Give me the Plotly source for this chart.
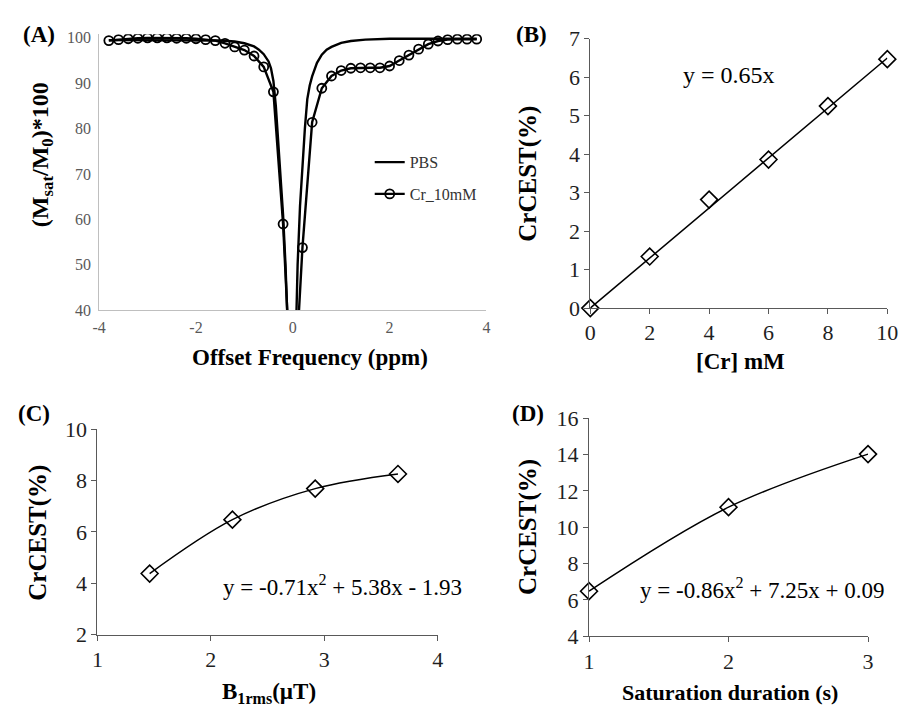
import plotly.graph_objects as go

W, H = 915, 721

# ---------------- Panel A data ----------------
offset_cr = [-3.8, -3.6, -3.4, -3.2, -3.0, -2.8, -2.6, -2.4, -2.2, -2.0,
             -1.8, -1.6, -1.4, -1.2, -1.0, -0.8, -0.6, -0.4, -0.2, 0.0,
             0.2, 0.4, 0.6, 0.8, 1.0, 1.2, 1.4, 1.6, 1.8, 2.0,
             2.2, 2.4, 2.6, 2.8, 3.0, 3.2, 3.4, 3.6, 3.8]
cr_10mM = [99.4, 99.6, 99.8, 99.9, 100.0, 100.0, 100.0, 99.9, 99.9, 99.8,
           99.6, 99.4, 98.8, 98.0, 97.3, 96.0, 93.6, 88.1, 59.0, 15.0,
           53.8, 81.4, 88.9, 91.6, 92.8, 93.3, 93.4, 93.4, 93.4, 93.8,
           95.0, 96.2, 97.5, 98.6, 99.3, 99.6, 99.7, 99.7, 99.7]

offset_pbs = [-3.8, -3.0, -2.0, -1.5, -1.2, -1.0, -0.8, -0.7, -0.6, -0.5,
              -0.45, -0.4, -0.35, -0.3, -0.25, -0.2, -0.15, -0.1, -0.05, 0.0,
              0.05, 0.1, 0.15, 0.2, 0.25, 0.3, 0.35, 0.4, 0.5, 0.6,
              0.7, 0.8, 1.0, 1.2, 1.5, 2.0, 3.0, 3.8]
pbs = [99.5, 99.5, 99.5, 99.4, 99.2, 98.8, 98.1, 97.4, 96.4, 94.8,
       93.3, 90.5, 85.0, 77.0, 70.0, 61.0, 50.0, 36.0, 20.0, 5.0,
       28.0, 50.0, 63.0, 72.0, 80.0, 86.5, 89.5, 91.5, 94.5, 96.3,
       97.4, 98.0, 98.9, 99.3, 99.6, 99.8, 99.8, 99.8]
ticks_a_x = [-4, -2, 0, 2, 4]
ticklabels_a_x = ["-4", "-2", "0", "2", "4"]

# ---------------- Panel B data ----------------
cr_conc = [0, 2, 4, 6, 8, 10]
crcest_conc = [0.0, 1.34, 2.82, 3.86, 5.25, 6.47]
trend_b_x = [0, 10]
trend_b_y = [0.0, 6.5]

# ---------------- Panel C data ----------------
b1rms = [1.46, 2.19, 2.92, 3.65]
crcest_b1 = [4.38, 6.48, 7.69, 8.26]

# ---------------- Panel D data ----------------
sat_dur = [1, 2, 3]
crcest_dur = [6.48, 11.1, 14.02]

SERIF = "Liberation Serif, DejaVu Serif, serif"
DARK = "#1f1f1f"
AX = "#595959"


def px(x):
    return x / W


def py(y):
    return 1 - y / H


fig = go.Figure()

# Panel A
fig.add_trace(go.Scatter(x=offset_pbs, y=pbs, mode="lines", name="PBS",
                         line=dict(color="black", width=2.4),
                         xaxis="x", yaxis="y", legendgroup="g1"))
fig.add_trace(go.Scatter(x=offset_cr, y=cr_10mM, mode="lines+markers", name="Cr_10mM",
                         line=dict(color="black", width=2.4),
                         marker=dict(symbol="circle-open", size=9, color="black",
                                     line=dict(width=1.8, color="black")),
                         xaxis="x", yaxis="y", legendgroup="g2"))

# Panel B
fig.add_trace(go.Scatter(x=trend_b_x, y=trend_b_y, mode="lines", showlegend=False,
                         line=dict(color="black", width=1.5),
                         xaxis="x2", yaxis="y2"))
fig.add_trace(go.Scatter(x=cr_conc, y=crcest_conc, mode="markers", showlegend=False,
                         marker=dict(symbol="diamond-open", size=13, color="black",
                                     line=dict(width=1.6, color="black")),
                         cliponaxis=False, xaxis="x2", yaxis="y2"))

# Panel C
fig.add_trace(go.Scatter(x=b1rms, y=crcest_b1, mode="lines+markers", showlegend=False,
                         line=dict(color="black", width=1.5, shape="spline"),
                         marker=dict(symbol="diamond-open", size=13, color="black",
                                     line=dict(width=1.6, color="black")),
                         cliponaxis=False, xaxis="x3", yaxis="y3"))

# Panel D
fig.add_trace(go.Scatter(x=sat_dur, y=crcest_dur, mode="lines+markers", showlegend=False,
                         line=dict(color="black", width=1.5, shape="spline"),
                         marker=dict(symbol="diamond-open", size=13, color="black",
                                     line=dict(width=1.6, color="black")),
                         cliponaxis=False, xaxis="x4", yaxis="y4"))

common = dict(showgrid=False, zeroline=False, showline=True, linewidth=1)
tickA = dict(family=SERIF, size=16, color="#595959")
tickB = dict(family=SERIF, size=22, color=DARK)

fig.update_layout(
    width=W, height=H,
    margin=dict(l=0, r=0, t=0, b=0),
    paper_bgcolor="white", plot_bgcolor="white",
    showlegend=True,
    legend=dict(x=px(370), y=py(138), xanchor="left", yanchor="top",
                font=dict(family=SERIF, size=16, color="#333333"),
                bgcolor="rgba(0,0,0,0)", tracegroupgap=8, traceorder="grouped"),
    xaxis=dict(domain=[px(94), px(489)], range=[-4, 4], tickvals=ticks_a_x,
               ticktext=ticklabels_a_x,
               anchor="y", linecolor="#bfbfbf", ticks="outside", ticklen=3,
               tickcolor="rgba(0,0,0,0)", tickfont=tickA, **common),
    yaxis=dict(domain=[py(309), py(23)], range=[40, 100.8],
               tickvals=[40, 50, 60, 70, 80, 90, 100],
               anchor="x", linecolor="#bfbfbf", ticks="outside", ticklen=4,
               tickcolor="rgba(0,0,0,0)", tickfont=tickA, **common),
    xaxis2=dict(domain=[px(595), px(898)], range=[0, 10], tickvals=[0, 2, 4, 6, 8, 10],
                anchor="y2", linecolor=AX, ticks="outside", ticklen=5, tickcolor=AX,
                tickfont=tickB, **common),
    yaxis2=dict(domain=[py(306.7), py(27.7)], range=[0, 7], tickvals=list(range(8)),
                anchor="x2", linecolor=AX, ticks="outside", ticklen=5, tickcolor=AX,
                tickfont=tickB, **common),
    xaxis3=dict(domain=[px(92.3), px(439.3)], range=[1, 4], tickvals=[1, 2, 3, 4],
                anchor="y3", linecolor=AX, ticks="outside", ticklen=5, tickcolor=AX,
                tickfont=tickB, **common),
    yaxis3=dict(domain=[py(645), py(432.3)], range=[2, 10], tickvals=[2, 4, 6, 8, 10],
                anchor="x3", linecolor=AX, ticks="outside", ticklen=5, tickcolor=AX,
                tickfont=tickB, **common),
    xaxis4=dict(domain=[px(593.7), px(878.3)], range=[1, 3], tickvals=[1, 2, 3],
                anchor="y4", linecolor=AX, ticks="outside", ticklen=5, tickcolor=AX,
                tickfont=tickB, **common),
    yaxis4=dict(domain=[py(646.7), py(420.7)], range=[4, 16],
                tickvals=[4, 6, 8, 10, 12, 14, 16],
                anchor="x4", linecolor=AX, ticks="outside", ticklen=5, tickcolor=AX,
                tickfont=tickB, **common),
)


def note(text, x, y, size, angle=0, bold=False, color="black"):
    font = dict(family=SERIF, size=size, color=color)
    if bold:
        font["weight"] = "bold"
    fig.add_annotation(text=text, x=px(x), y=py(y), xref="paper", yref="paper",
                       xanchor="center", yanchor="middle", showarrow=False,
                       textangle=angle, font=font)


# Panel labels
note("(A)", 33, 23, 23, bold=True)
note("(B)", 535, 23, 23, bold=True)
note("(C)", 28, 416, 23, bold=True)
note("(D)", 531, 416, 23, bold=True)

# Axis titles
note("(M<sub>sat</sub>/M<sub>0</sub>)*100", 36, 148, 24, angle=-90, bold=True)
note("Offset Frequency (ppm)", 309, 358, 23, bold=True)
note("CrCEST(%)", 532, 168, 25, angle=-90, bold=True)
note("[Cr] mM", 748, 362, 23, bold=True)
note("CrCEST(%)", 32, 539, 25, angle=-90, bold=True)
note("B<sub>1rms</sub>(µT)", 267, 705, 23, bold=True)
note("CrCEST(%)", 532, 534, 25, angle=-90, bold=True)
note("Saturation duration (s)", 737, 705, 22, bold=True)

# Trend equations
note("y = 0.65x", 736, 65, 24)
note("y = -0.71x<sup>2</sup> + 5.38x - 1.93", 342, 594, 23)
note("y = -0.86x<sup>2</sup> + 7.25x + 0.09", 770, 597, 23)

fig.write_html("out.html")
